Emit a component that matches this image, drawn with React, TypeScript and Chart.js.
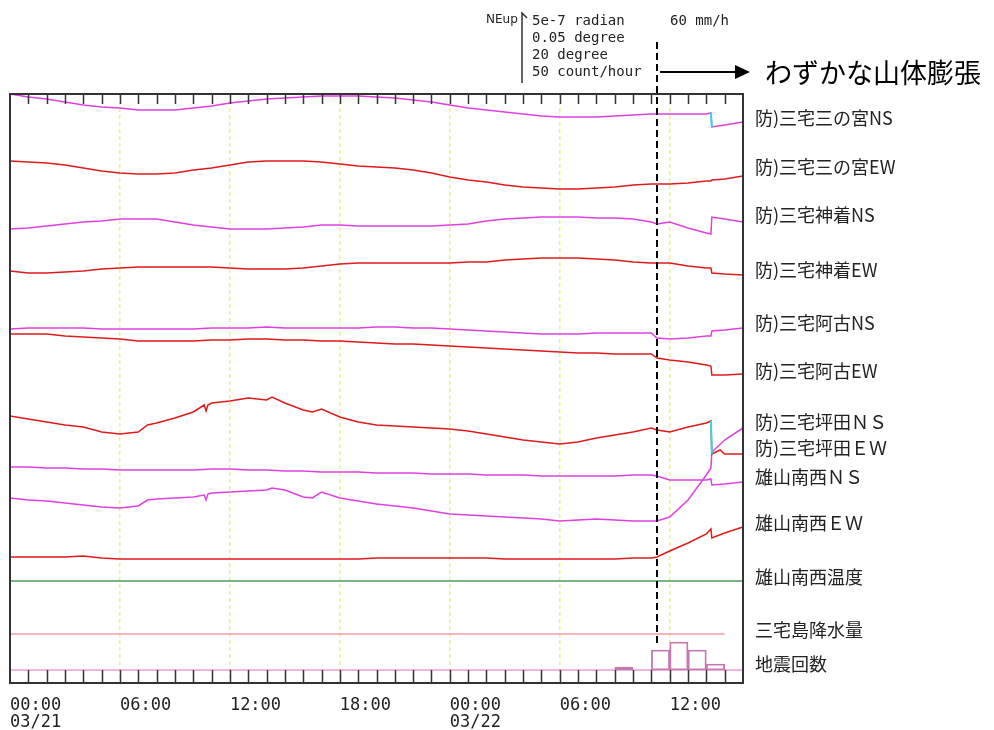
import React, { useEffect, useRef } from "react";
import { Chart, registerables } from "chart.js";

Chart.register(...registerables);

// ---- axis / ticks ----
const X_MIN = 0;
const X_MAX = 40; // hours from 03/21 00:00
const TICK_HOURS = [0, 6, 12, 18, 24, 30, 36];
const TICK_LABELS: string[][] = [["00:00", "03/21"], ["06:00"], ["12:00"], ["18:00"], ["00:00", "03/22"], ["06:00"], ["12:00"]];
const HOUR_MARKS = [1, 2, 3, 4, 5, 6, 7, 8, 9, 10, 11, 12, 13, 14, 15, 16, 17, 18, 19, 20, 21, 22, 23, 24, 25, 26, 27, 28, 29, 30, 31, 32, 33, 34, 35, 36, 37, 38, 39];
const Y_TOP = 0;
const Y_BOTTOM = 589; // display offset units (downward)
const EVENT_HOUR = 35.3;

// ---- common time grid ----
const GRID_H = [0, 1, 2, 3, 4, 5, 6, 7, 8, 9, 10, 11, 12, 13, 14, 15, 16, 17, 18, 19, 20, 21, 22, 23, 24, 25, 26, 27, 28, 29, 30, 31, 32, 33, 34, 35, 35.3, 36, 37, 38, 38.25, 38.3, 39, 40];

// ---- traces (display offsets) ----
const SANNOMIYA_NS = [0, 3, 5, 8, 11, 13, 14, 16, 16, 16, 14, 12, 9, 7, 5, 4, 3, 2, 2, 2, 3, 4, 6, 8, 11, 14, 16, 18, 20, 22, 23, 23, 23, 22, 21, 20, 20, 20, 20, 20, 19, 33, 31, 28];
const SANNOMIYA_EW = [67, 68, 69, 71, 74, 77, 79, 80, 80, 79, 76, 74, 71, 68, 67, 67, 67, 68, 70, 72, 73, 74, 76, 79, 83, 86, 88, 91, 93, 94, 95, 95, 94, 93, 91, 90, 90, 90, 89, 87, 87, 86, 85, 82];
const KAMITSUKI_NS = [135, 134, 132, 130, 128, 127, 125, 125, 125, 128, 131, 133, 135, 135, 135, 134, 133, 131, 131, 132, 132, 132, 132, 132, 131, 130, 127, 125, 124, 123, 123, 123, 124, 124, 125, 128, 130, 128, 134, 139, 140, 123, 125, 128];
const KAMITSUKI_EW = [177, 179, 179, 178, 177, 175, 174, 173, 173, 173, 173, 173, 174, 175, 175, 175, 174, 172, 170, 169, 169, 169, 169, 169, 169, 168, 168, 166, 165, 164, 164, 164, 165, 166, 168, 169, 169, 169, 172, 174, 174, 179, 180, 181];
const AKO_NS = [235, 234, 234, 234, 234, 235, 235, 235, 235, 235, 235, 234, 234, 234, 233, 234, 234, 234, 234, 234, 233, 233, 234, 234, 235, 236, 237, 238, 239, 240, 240, 240, 239, 239, 239, 239, 244, 245, 244, 242, 242, 237, 236, 234];
const AKO_EW = [240, 240, 240, 242, 243, 244, 245, 247, 247, 247, 247, 246, 246, 245, 245, 246, 246, 247, 247, 248, 249, 250, 250, 251, 252, 253, 254, 255, 256, 257, 258, 259, 259, 260, 260, 260, 264, 266, 268, 271, 272, 281, 281, 280];
const OYAMA_NS = [373, 373, 374, 374, 375, 375, 376, 376, 376, 376, 376, 375, 375, 376, 376, 377, 377, 378, 378, 378, 379, 379, 379, 380, 380, 380, 381, 381, 381, 382, 382, 382, 382, 382, 381, 381, 382, 386, 386, 386, 385, 391, 390, 388];
const OYAMA_EW = [463, 463, 463, 463, 462, 464, 465, 465, 465, 465, 465, 465, 465, 465, 465, 465, 465, 465, 465, 465, 464, 464, 464, 464, 464, 464, 464, 465, 465, 465, 465, 465, 465, 465, 464, 464, 463, 457, 449, 440, 435, 444, 439, 433];

const TSUBOTA_EW: [number, number][] = [
  [0, 322], [1, 325], [2, 328], [3, 331], [4, 333], [5, 338], [6, 340], [7, 338], [7.5, 331], [8, 329], [9, 324], [10, 318],
  [10.6, 311], [10.7, 317], [10.8, 311], [11, 309], [12, 307], [13, 304], [14, 306], [14.3, 303], [15, 309], [16, 316], [16.5, 318], [17, 315],
  [18, 323], [19, 328], [20, 331], [21, 332], [22, 333], [23, 334], [24, 335], [25, 337], [26, 340], [27, 343], [28, 346],
  [29, 348], [30, 350], [31, 348], [32, 344], [33, 341], [34, 338], [35, 334], [35.3, 336], [36, 338], [37, 333], [38, 329],
  [38.25, 327], [38.3, 360], [38.75, 356], [39, 360], [40, 360],
];
const TSUBOTA_NS: [number, number][] = [
  [0, 404], [1, 406], [2, 407], [3, 409], [4, 411], [5, 413], [6, 414], [7, 412], [7.5, 406], [8, 405], [9, 404], [10, 403],
  [10.6, 401], [10.7, 406], [10.8, 400], [11, 399], [12, 398], [13, 397], [14, 396], [14.3, 394], [15, 396], [16, 403], [16.5, 404], [17, 398],
  [18, 404], [19, 407], [20, 410], [21, 412], [22, 414], [23, 417], [24, 420], [25, 421], [26, 422], [27, 423], [28, 424],
  [29, 425], [30, 427], [31, 426], [32, 425], [33, 426], [34, 427], [35, 427], [35.3, 427], [36, 423], [37, 406], [38, 381],
  [38.25, 374], [38.3, 358], [39, 346], [40, 334],
];
const JUMP_SANNOMIYA: [number, number][] = [[38.25, 19], [38.3, 33]];
const JUMP_TSUBOTA: [number, number][] = [[38.25, 327], [38.3, 360]];

const TEMP_LINE: [number, number][] = [[0, 487], [40, 487]];
const RAIN_LINE: [number, number][] = [[0, 540], [39, 540]];
const EQ_BASE: [number, number][] = [[0, 576], [40, 576]];
const EQ_BASE_VALUE = 576;
const EQ_HOURS = [33.5, 35.5, 36.5, 37.5, 38.5];
const EQ_COUNTS = [3, 20, 28, 20, 6];

// ---- right-side labels ----
const LABELS = [
  "防)三宅三の宮NS", "防)三宅三の宮EW", "防)三宅神着NS", "防)三宅神着EW", "防)三宅阿古NS", "防)三宅阿古EW",
  "防)三宅坪田ＮＳ", "防)三宅坪田ＥＷ", "雄山南西ＮＳ", "雄山南西ＥＷ", "雄山南西温度", "三宅島降水量", "地震回数",
];
const LABEL_POS = [24, 73, 121, 176, 229, 277, 328, 354, 383, 429, 483, 536, 570];

const LEGEND_UNITS = ["5e-7 radian", "0.05 degree", "20 degree", "50 count/hour"];
const ANNOTATION = "わずかな山体膨張";

const MAGENTA = "#e040e0";
const RED = "#e01a1a";
const CYAN = "#30d8e8";

function onGrid(vals: number[]) {
  return vals.map((v, i) => ({ x: GRID_H[i], y: v }));
}
function pairs(p: [number, number][]) {
  return p.map(([x, y]) => ({ x, y }));
}

const overlay = {
  id: "overlay",
  afterDatasetsDraw(chart: any) {
    const { ctx, chartArea: a, scales } = chart;
    const xs = scales.x;
    const ys = scales.y;
    ctx.save();
    // hour tick marks
    ctx.strokeStyle = "#333";
    ctx.lineWidth = 1.5;
    const baseY = ys.getPixelForValue(EQ_BASE_VALUE);
    ctx.beginPath();
    for (const h of HOUR_MARKS) {
      const px = Math.round(xs.getPixelForValue(h)) + 0.5;
      ctx.moveTo(px, a.top);
      ctx.lineTo(px, a.top + 10);
      ctx.moveTo(px, a.bottom);
      ctx.lineTo(px, baseY);
    }
    ctx.stroke();
    // frame
    ctx.lineWidth = 2;
    ctx.strokeStyle = "#333";
    ctx.strokeRect(a.left, a.top, a.right - a.left, a.bottom - a.top);

    // event dashed line
    const ex = Math.round(xs.getPixelForValue(EVENT_HOUR));
    ctx.strokeStyle = "#000";
    ctx.lineWidth = 2;
    ctx.setLineDash([7, 4]);
    ctx.beginPath();
    ctx.moveTo(ex, 42);
    ctx.lineTo(ex, ys.getPixelForValue(551));
    ctx.stroke();
    ctx.setLineDash([]);
    // arrow
    ctx.lineWidth = 2;
    ctx.beginPath();
    ctx.moveTo(ex + 3, 72);
    ctx.lineTo(736, 72);
    ctx.stroke();
    ctx.fillStyle = "#000";
    ctx.beginPath();
    ctx.moveTo(735, 65);
    ctx.lineTo(750, 72);
    ctx.lineTo(735, 79);
    ctx.closePath();
    ctx.fill();
    ctx.font = '27px "Noto Sans CJK JP"';
    ctx.textBaseline = "middle";
    ctx.textAlign = "left";
    ctx.fillText(ANNOTATION, 765, 73);

    // top legend
    ctx.fillStyle = "#222";
    ctx.font = '12px "DejaVu Sans"';
    ctx.fillText("NEup", 486, 20);
    ctx.strokeStyle = "#333";
    ctx.lineWidth = 1.5;
    ctx.beginPath();
    ctx.moveTo(527, 18);
    ctx.lineTo(522, 13);
    ctx.lineTo(522, 83);
    ctx.stroke();
    ctx.font = '14px "DejaVu Sans Mono"';
    LEGEND_UNITS.forEach((t, i) => ctx.fillText(t, 532, 21 + i * 17));
    ctx.fillText("60 mm/h", 670, 21);

    // right labels
    ctx.fillStyle = "#222";
    ctx.font = '18px "Noto Sans CJK JP"';
    LABELS.forEach((t, i) => ctx.fillText(t, a.right + 12, ys.getPixelForValue(LABEL_POS[i])));
    ctx.restore();
  },
};

export default function App() {
  const ref = useRef<HTMLCanvasElement>(null);
  useEffect(() => {
    if (!ref.current) return;
    const line = (data: any[], color: string, order = 2, width = 1.5) => ({
      type: "line",
      data,
      borderColor: color,
      borderWidth: width,
      pointRadius: 0,
      fill: false,
      tension: 0,
      order,
    });
    const chart = new Chart(ref.current, {
      type: "line",
      data: {
        datasets: [
          line(onGrid(SANNOMIYA_NS), MAGENTA),
          line(onGrid(SANNOMIYA_EW), RED),
          line(onGrid(KAMITSUKI_NS), MAGENTA),
          line(onGrid(KAMITSUKI_EW), RED),
          line(onGrid(AKO_NS), MAGENTA),
          line(onGrid(AKO_EW), RED),
          line(pairs(TSUBOTA_EW), RED),
          line(onGrid(OYAMA_NS), MAGENTA),
          line(pairs(TSUBOTA_NS), MAGENTA),
          line(onGrid(OYAMA_EW), RED),
          line(pairs(JUMP_SANNOMIYA), CYAN, 0, 2),
          line(pairs(JUMP_TSUBOTA), CYAN, 0, 2),
          line(pairs(TEMP_LINE), "#4f9a5f", 2, 1.5),
          line(pairs(RAIN_LINE), "#e8707a", 2, 1.2),
          line(pairs(EQ_BASE), "#e070c0", 2, 1.2),
          {
            type: "bar",
            data: EQ_HOURS.map((h, i) => ({ x: h, y: [EQ_BASE_VALUE, EQ_BASE_VALUE - EQ_COUNTS[i]] })),
            backgroundColor: "rgba(0,0,0,0)",
            borderColor: "#c878b0",
            borderWidth: 1.2,
            borderSkipped: false,
            barPercentage: 1,
            categoryPercentage: 1,
            grouped: false,
            order: 1,
          } as any,
        ] as any,
      },
      options: {
        responsive: false,
        animation: false,
        events: [],
        layout: { padding: { left: 10, right: 251, top: 94, bottom: 0 } },
        plugins: { legend: { display: false }, tooltip: { enabled: false } },
        scales: {
          x: {
            type: "linear",
            min: X_MIN,
            max: X_MAX,
            offset: false,
            afterFit: (s: any) => {
              s.height = 47;
              s.paddingLeft = 0;
              s.paddingRight = 0;
            },
            grid: { color: "#f4f07c", lineWidth: 1.5, drawTicks: false, offset: false },
            border: { display: false, dash: [4, 3] },
            ticks: {
              stepSize: 6,
              includeBounds: false,
              autoSkip: false,
              maxRotation: 0,
              align: "start",
              padding: 14,
              color: "#222",
              font: { family: "DejaVu Sans Mono", size: 17, lineHeight: 1 },
              callback: (v: any) => {
                const i = TICK_HOURS.indexOf(Number(v));
                return i >= 0 ? TICK_LABELS[i] : "";
              },
            },
          },
          y: {
            type: "linear",
            display: false,
            min: Y_TOP,
            max: Y_BOTTOM,
            reverse: true,
          },
        },
      } as any,
      plugins: [overlay],
    });
    return () => chart.destroy();
  }, []);
  return (
    <div style={{ position: "fixed", left: 0, top: 0, width: 994, height: 730, background: "#fff" }}>
      <canvas ref={ref} width={994} height={730} />
    </div>
  );
}
